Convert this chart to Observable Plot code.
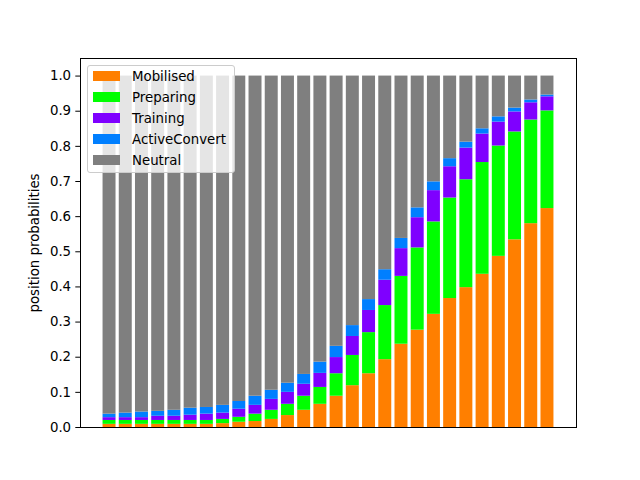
<!DOCTYPE html>
<html>
<head>
<meta charset="utf-8">
<script src="https://cdn.jsdelivr.net/npm/d3@7"></script>
<script src="https://cdn.jsdelivr.net/npm/@observablehq/plot@0.6"></script>
<style>
  html, body { margin: 0; padding: 0; background: #fff; }
  #wrap { position: relative; width: 640px; height: 480px; font-family: "DejaVu Sans", sans-serif; }
  #legend {
    position: absolute; left: 87px; top: 65px; width: 146px; height: 106px;
    background: rgba(255,255,255,0.8); border: 1px solid #cccccc; border-radius: 3px;
    font-size: 13.33px; color: #000;
  }
  .item { position: absolute; left: 5px; height: 14px; display: flex; align-items: center; }
  .sw { width: 27px; height: 10px; margin-right: 12px; }
</style>
</head>
<body>
<div id="wrap"><div id="legend"></div></div>
<script>
const positions = d3.range(28);
const seriesNames = ["Mobilised", "Preparing", "Training", "ActiveConvert", "Neutral"];
const seriesColors = ["#ff7f00", "#00ff00", "#7f00ff", "#007fff", "#7f7f7f"];

const mobilised = [0.009,0.009,0.009,0.009,0.009,0.009,0.009,0.011,0.015,0.017,0.023,0.034,0.049,0.066,0.089,0.119,0.153,0.193,0.237,0.277,0.322,0.367,0.398,0.436,0.487,0.534,0.580,0.623];
const preparing = [0.011,0.011,0.011,0.011,0.011,0.011,0.011,0.012,0.014,0.021,0.026,0.032,0.040,0.048,0.064,0.086,0.117,0.154,0.193,0.234,0.263,0.286,0.307,0.318,0.314,0.307,0.295,0.278];
const training = [0.008,0.008,0.008,0.012,0.012,0.015,0.018,0.018,0.023,0.025,0.031,0.034,0.034,0.040,0.046,0.054,0.063,0.072,0.079,0.086,0.089,0.089,0.090,0.081,0.068,0.057,0.049,0.040];
const activeConvert = [0.010,0.013,0.016,0.014,0.017,0.020,0.019,0.022,0.022,0.026,0.026,0.026,0.028,0.032,0.032,0.031,0.031,0.030,0.029,0.028,0.025,0.023,0.017,0.015,0.015,0.011,0.008,0.005];
const neutral = positions.map(i => 1 - mobilised[i] - preparing[i] - training[i] - activeConvert[i]);
const yTicks = [0,0.1,0.2,0.3,0.4,0.5,0.6,0.7,0.8,0.9,1.0];

const seriesValues = [mobilised, preparing, training, activeConvert, neutral];
const data = [];
seriesNames.forEach((name, s) => positions.forEach(i => data.push({pos: i, series: name, value: seriesValues[s][i]})));

const chart = Plot.plot({
  width: 640, height: 480,
  marginLeft: 80, marginRight: 64, marginTop: 58, marginBottom: 53,
  style: {fontFamily: "DejaVu Sans, sans-serif", fontSize: "13.33px", color: "#000", background: "#fff"},
  x: {type: "band", domain: positions, paddingInner: 0.2, paddingOuter: 1.39, round: false, axis: null},
  y: {domain: [0, 1.05], ticks: yTicks, tickFormat: d3.format(".1f"), label: "position probabilities",
      labelAnchor: "center", labelArrow: "none", tickSize: 4.7, tickPadding: 4.7, labelOffset: 51},
  color: {domain: seriesNames, range: seriesColors},
  marks: [
    Plot.barY(data, {x: "pos", y: "value", fill: "series", order: seriesNames}),
    Plot.frame({stroke: "#000", strokeWidth: 1})
  ]
});
document.getElementById("wrap").prepend(chart);

const legend = document.getElementById("legend");
seriesNames.forEach((name, s) => {
  const row = document.createElement("div");
  row.className = "item";
  row.style.top = (3 + s * 21) + "px";
  row.innerHTML = `<div class="sw" style="background:${seriesColors[s]}"></div><span>${name}</span>`;
  legend.appendChild(row);
});
</script>
</body>
</html>
